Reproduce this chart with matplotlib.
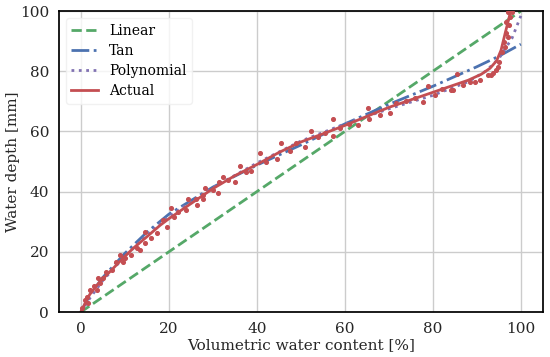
import numpy as np
import matplotlib.pyplot as plt

# fitted curves
lin_x = [0, 100]
lin_y = [0, 100]

tan_x = [0, 2, 5, 10, 15, 20, 30, 40, 50, 60, 70, 80, 90, 95, 100]
tan_y = [0, 5.5, 11.5, 19.5, 26.5, 32.5, 41.5, 48.8, 55.5, 62.5, 69, 75, 81.5, 85, 89]

poly_x = [0, 2, 5, 10, 15, 20, 30, 40, 50, 60, 70, 80, 88, 92, 95, 98, 100]
poly_y = [0, 4.5, 10.5, 18.5, 25.5, 31.8, 41.3, 49.5, 56.8, 62.5, 67.5, 72, 76.5, 80, 84.2, 91, 98.4]

act_x = [0, 1, 2, 4, 6, 8, 10, 12, 15, 18, 20, 25, 30, 35, 40, 45, 50, 55, 60,
         65, 70, 75, 80, 85, 88, 91, 93, 94.5, 95.5, 96.5, 97.7]
act_y = [0, 3, 5.8, 9.5, 12.5, 15.5, 18.5, 21.3, 25, 28.8, 31, 36, 41, 45.3, 49,
         53, 56.5, 59.2, 62, 65, 68, 70.5, 73, 75.5, 77, 79, 81, 83.5, 87, 93, 100]

# measured points
meas_x = [0.3, 0.9, 1.3, 1.7, 2.0, 3.0, 3.6, 3.9, 4.3, 5.1, 5.8, 7.0, 8.1, 8.9, 9.5,
          10.0, 11.5, 12.7, 13.5, 14.5, 14.5, 16.0, 17.2, 18.7, 19.5, 20.6, 21.2,
          22.1, 24.0, 24.4, 26.1, 26.3, 27.8, 27.8, 28.2, 30.0, 31.2, 31.4, 32.2,
          33.5, 35.0, 36.1, 37.5, 38.6, 40.7, 42.0, 44.6, 45.6, 47.5, 49.0, 50.9,
          52.4, 54.0, 55.5, 57.3, 57.3, 59.0, 61.0, 63.0, 65.2, 65.5, 68.0, 70.2,
          71.7, 74.0, 76.0, 77.8, 78.9, 80.5, 82.0, 84.2, 84.6, 85.4, 86.9, 88.4,
          89.5, 90.7, 92.6, 93.3, 93.7, 94.3, 94.8, 95.1, 95.8, 96.2, 96.4, 96.7,
          96.7, 97.1, 97.1, 97.3, 97.5, 97.9]
meas_y = [1.5, 4.0, 5.1, 3.1, 7.3, 8.5, 7.3, 11.2, 9.5, 11.2, 13.4, 14.0, 16.7,
          18.9, 16.5, 17.8, 18.9, 21.2, 20.5, 26.7, 22.8, 24.5, 26.1, 30.6, 28.4,
          34.4, 31.5, 33.3, 33.9, 37.4, 37.5, 35.5, 38.9, 37.6, 41.1, 40.5, 39.4,
          43.1, 45.0, 44.0, 43.3, 48.5, 46.5, 47.0, 52.7, 50.0, 50.7, 56.2, 53.5,
          56.0, 54.9, 60.2, 58.0, 59.5, 64.0, 58.5, 61.0, 62.5, 62.1, 67.7, 64.0,
          65.5, 66.0, 69.3, 70.0, 71.0, 69.9, 75.1, 72.0, 74.0, 73.8, 73.8, 79.1,
          75.4, 76.5, 76.5, 77.1, 78.7, 78.7, 79.3, 80.4, 81.5, 83.2, 86.5, 89.8,
          88.1, 92.6, 96.4, 91.5, 99.8, 95.3, 98.1, 99.8]

plt.rcParams['font.family'] = 'DejaVu Serif'

fig = plt.figure(figsize=(5.5, 3.57), dpi=100)
ax = fig.add_axes([0.107, 0.126, 0.88, 0.843])

ax.plot(lin_x, lin_y, color='#55A868', ls='--', lw=2, label='Linear')
ax.plot(tan_x, tan_y, color='#4C72B0', ls='-.', lw=2, label='Tan')
ax.plot(poly_x, poly_y, color='#8172B2', ls=':', lw=2, label='Polynomial')
ax.plot(act_x, act_y, color='#C44E52', ls='-', lw=2, label='Actual')
ax.scatter(meas_x, meas_y, color='#C44E52', s=7, zorder=3)

ax.set_xlim(-5, 105)
ax.set_ylim(0, 100)
ax.set_xticks([0, 20, 40, 60, 80, 100])
ax.set_yticks([0, 20, 40, 60, 80, 100])
ax.grid(True, color='#cccccc', lw=1)
ax.set_axisbelow(True)
ax.tick_params(length=0, labelsize=11, pad=7, colors='#262626')
for s in ax.spines.values():
    s.set_color('#000000')
    s.set_linewidth(1.25)

ax.set_xlabel('Volumetric water content [%]', fontsize=11, color='#262626')
ax.set_ylabel('Water depth [mm]', fontsize=11, color='#262626')
ax.xaxis.set_label_coords(0.5, -0.088)
ax.yaxis.set_label_coords(-0.081, 0.5)
ax.legend(loc='upper left', fontsize=10, frameon=True, framealpha=0.8,
          edgecolor='#eeeeee', handlelength=1.9, borderpad=0.4, labelspacing=0.45)

fig.savefig('out.png')
